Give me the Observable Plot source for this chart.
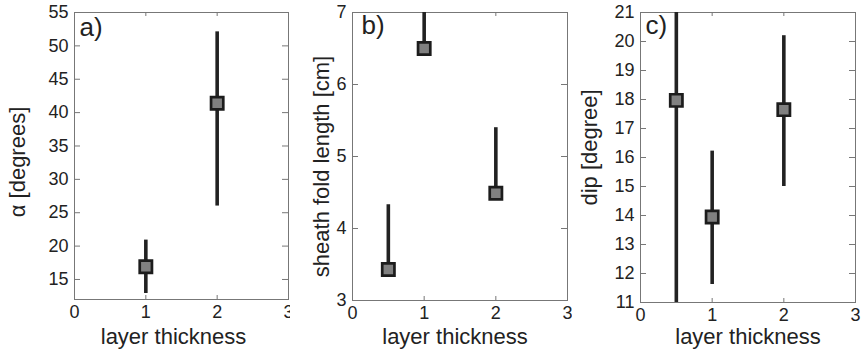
<!DOCTYPE html>
<html>
<head>
<meta charset="utf-8">
<script src="https://cdn.jsdelivr.net/npm/d3@7"></script>
<script src="https://cdn.jsdelivr.net/npm/@observablehq/plot@0.6"></script>
<style>
  body { margin: 0; background: white; }
  #wrap { position: relative; width: 862px; height: 351px; display: flex; }
  #wrap svg { overflow: visible; display: block; }
</style>
</head>
<body>
<div id="wrap"></div>
<script>
// ---- data ----
const xTicks = [0, 1, 2, 3];
const xLabel = "layer thickness";

// panel a
const aThickness = [1, 2];
const aAlpha = [16.9, 41.4];
const aLow = [12.9, 26.0];
const aHigh = [20.9, 52.1];
const aTicks = [15, 20, 25, 30, 35, 40, 45, 50, 55];

// panel b (one-sided error bars, upward)
const bThickness = [0.5, 1, 2];
const bLength = [3.43, 6.5, 4.49];
const bLow = [3.43, 6.5, 4.49];
const bHigh = [4.33, 7.4, 5.4];
const bTicks = [3, 4, 5, 6, 7];

// panel c
const cThickness = [0.5, 1, 2];
const cDip = [17.97, 13.95, 17.65];
const cLow = [10.6, 11.62, 15.0];
const cHigh = [25.3, 16.22, 20.2];
const cTicks = [11, 12, 13, 14, 15, 16, 17, 18, 19, 20, 21];

const font = "'Liberation Sans', Arial, Helvetica, sans-serif";
const frameColor = "#777";
const ink = "#222";
const H = 351;
const fmt = d3.format("d");

function rows(t, v, lo, hi) {
  return t.map((d, i) => ({t: d, v: v[i], lo: lo[i], hi: hi[i]}));
}

function panel(o) {
  const iw = o.width - o.ml - o.mr;
  const ih = H - o.mt - o.mb;
  return Plot.plot({
    width: o.width,
    height: H,
    marginLeft: o.ml, marginRight: o.mr, marginTop: o.mt, marginBottom: o.mb,
    style: {fontFamily: font, fontSize: "18px", color: ink, background: "white", overflow: "visible"},
    x: {domain: [0, 3]},
    y: {domain: o.ydomain},
    marks: [
      Plot.frame({stroke: frameColor}),
      Plot.tickY(o.yticks, {y: d => d, insetRight: iw - 6, stroke: frameColor}),
      Plot.tickY(o.yticks, {y: d => d, insetLeft: iw - 6, stroke: frameColor}),
      Plot.tickX(xTicks, {x: d => d, insetTop: ih - 4, stroke: frameColor}),
      Plot.tickX(xTicks, {x: d => d, insetBottom: ih - 4, stroke: frameColor}),
      Plot.axisY({ticks: o.yticks, tickFormat: fmt, tickSize: 0, tickPadding: 6, label: null, fontSize: 18, fill: ink}),
      Plot.axisX({ticks: xTicks, tickFormat: fmt, tickSize: 0, tickPadding: 6, label: null, fontSize: 18, fill: ink}),
      Plot.ruleX(o.data, {x: "t", y1: "lo", y2: "hi", stroke: ink, strokeWidth: 3.6, clip: true}),
      Plot.dot(o.data, {x: "t", y: "v", symbol: "square", r: 6.9, fill: "#808080", stroke: "#1c1c1c", strokeWidth: 2.7}),
      Plot.text([o.letter], {text: d => d, frameAnchor: "top-left", textAnchor: "start", lineAnchor: "top",
        dx: o.letterDx, dy: o.letterDy, fontSize: 26, fill: ink}),
      Plot.text([o.ylabel], {text: d => d, frameAnchor: "left", rotate: -90, textAnchor: "middle", lineAnchor: "middle",
        dx: o.ylabelDx, dy: o.ylabelDy, fontSize: 22, fill: ink}),
      Plot.text([xLabel], {text: d => d, frameAnchor: "bottom", textAnchor: "middle", lineAnchor: "middle",
        dx: o.xlabelDx, dy: o.xlabelDy, fontSize: 22, fill: ink})
    ]
  });
}

const wrap = document.getElementById("wrap");

wrap.append(panel({
  width: 290, ml: 74, mr: 2, mt: 12, mb: 52,
  ydomain: [12, 55], yticks: aTicks,
  data: rows(aThickness, aAlpha, aLow, aHigh),
  letter: "a)", letterDx: 5, letterDy: 5,
  ylabel: "α [degrees]", ylabelDx: -57, ylabelDy: 6,
  xlabelDx: -8, xlabelDy: 37
}));

wrap.append(panel({
  width: 282, ml: 62, mr: 5, mt: 12, mb: 51,
  ydomain: [3, 7], yticks: bTicks,
  data: rows(bThickness, bLength, bLow, bHigh),
  letter: "b)", letterDx: 9, letterDy: 3,
  ylabel: "sheath fold length [cm]", ylabelDx: -31, ylabelDy: 10,
  xlabelDx: -5, xlabelDy: 36
}));

wrap.append(panel({
  width: 290, ml: 68, mr: 7, mt: 12, mb: 49,
  ydomain: [11, 21], yticks: cTicks,
  data: rows(cThickness, cDip, cLow, cHigh),
  letter: "c)", letterDx: 5, letterDy: 3,
  ylabel: "dip [degree]", ylabelDx: -51, ylabelDy: -10,
  xlabelDx: 0, xlabelDy: 34
}));
</script>
</body>
</html>
